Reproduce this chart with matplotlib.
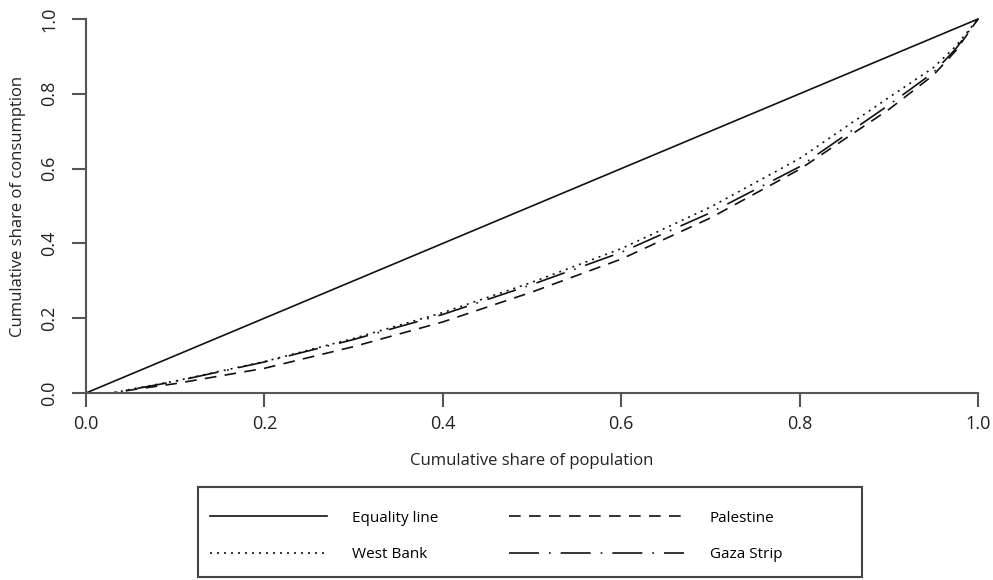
import numpy as np
import matplotlib
matplotlib.use("Agg")
import matplotlib.pyplot as plt
from matplotlib.patches import Rectangle

plt.rcParams['font.family'] = ['Open Sans', 'DejaVu Sans']

# cumulative population share
pop = [0.0, 0.03, 0.05, 0.1, 0.2, 0.3, 0.4, 0.5, 0.6, 0.7, 0.8, 0.9, 0.95, 0.975, 1.0]
palestine = [0.0, 0.0, 0.008, 0.025, 0.066, 0.124, 0.19, 0.27, 0.358, 0.468, 0.598, 0.758, 0.85, 0.915, 1.0]
west_bank = [0.0, 0.0, 0.01, 0.032, 0.084, 0.146, 0.215, 0.296, 0.386, 0.497, 0.627, 0.79, 0.87, 0.927, 1.0]
gaza = [0.0, 0.0, 0.009, 0.031, 0.083, 0.143, 0.21, 0.29, 0.376, 0.482, 0.605, 0.77, 0.857, 0.92, 1.0]
equality = [0.0, 1.0]

fig = plt.figure(figsize=(9.93, 5.8), dpi=100)
ax = fig.add_axes([86 / 993, 1 - 393 / 580, 892 / 993, 374 / 580])

l_eq, = ax.plot(equality, equality, color='#111111', lw=1.2, clip_on=False)
l_pa, = ax.plot(pop, palestine, color='#111111', lw=1.2, ls=(0, (7, 5)), clip_on=False)
l_wb, = ax.plot(pop, west_bank, color='#111111', lw=1.2, ls=(0, (1.2, 3)), clip_on=False)
l_gz, = ax.plot(pop, gaza, color='#111111', lw=1.2, ls=(0, (18, 6, 1, 6)), clip_on=False)

ax.set_xlim(0, 1)
ax.set_ylim(0, 1)
ax.set_xticks([0, 0.2, 0.4, 0.6, 0.8, 1.0])
ax.set_yticks([0, 0.2, 0.4, 0.6, 0.8, 1.0])
ax.set_xticklabels(['0.0', '0.2', '0.4', '0.6', '0.8', '1.0'])
ax.set_yticklabels(['0.0', '0.2', '0.4', '0.6', '0.8', '1.0'], rotation=90, va='center')
for s in ['top', 'right']:
    ax.spines[s].set_visible(False)
for s in ['left', 'bottom']:
    ax.spines[s].set_color('#555555')
    ax.spines[s].set_linewidth(1.5)
ax.tick_params(length=10, width=1.5, color='#555555', labelsize=13, labelcolor='#222222')
ax.tick_params(axis='y', pad=10)
ax.tick_params(axis='x', pad=6)
ax.set_xlabel('Cumulative share of population', fontsize=12, labelpad=14, color='#222222')
ax.set_ylabel('Cumulative share of consumption', fontsize=12, labelpad=10, color='#222222')

# legend box with two columns of different handle lengths
fig.patches.append(Rectangle((198 / 993, 1 - 577 / 580), 664 / 993, 90 / 580,
                             transform=fig.transFigure, fill=False,
                             edgecolor='#444444', linewidth=1.5))
ymid = 1 - 536.5 / 580
leg1 = fig.legend([l_eq, l_wb], ['Equality line', 'West Bank'],
                  loc='center left', bbox_to_anchor=(210 / 993, ymid),
                  borderaxespad=0, borderpad=0, fontsize=11, handlelength=7.66,
                  handletextpad=1.64, labelspacing=1.44, frameon=False)
leg2 = fig.legend([l_pa, l_gz], ['Palestine', 'Gaza Strip'],
                  loc='center left', bbox_to_anchor=(509 / 993, ymid),
                  borderaxespad=0, borderpad=0, fontsize=11, handlelength=11.45,
                  handletextpad=1.7, labelspacing=1.44, frameon=False)

fig.savefig('out.png', dpi=100)
